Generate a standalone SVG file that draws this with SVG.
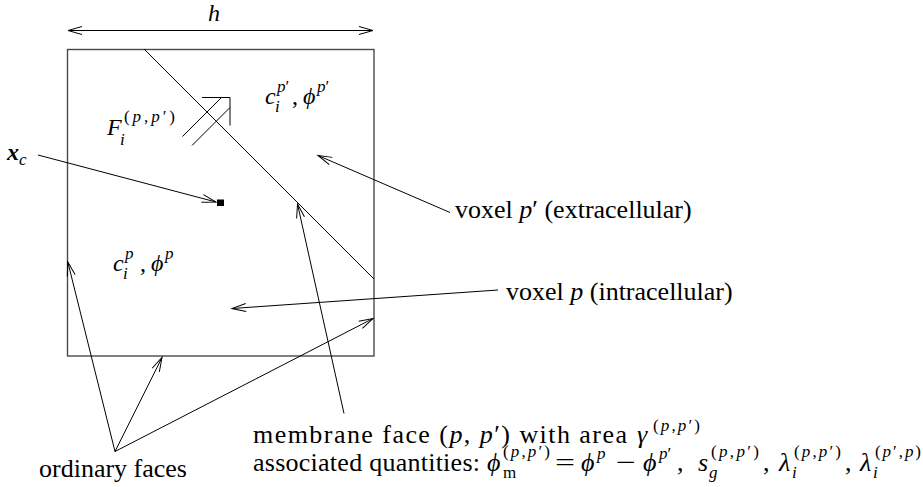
<svg xmlns="http://www.w3.org/2000/svg" width="923" height="487" viewBox="0 0 923 487">
<defs>
<marker id="ah" markerUnits="userSpaceOnUse" markerWidth="20" markerHeight="12" refX="14" refY="5" orient="auto-start-reverse" overflow="visible">
<path d="M0,1 L14,5 L0,9" fill="none" stroke="#000" stroke-width="1"/>
</marker>
</defs>
<rect width="923" height="487" fill="#fff"/>

<g id="voxel-box">
<rect x="67.5" y="49.5" width="306.5" height="306.5" fill="none" stroke="#4a4a4a" stroke-width="1.4"/>
<line x1="144" y1="49" x2="374" y2="279" stroke="#000" stroke-width="1"/>
</g>

<g id="flux-symbol" stroke="#000" stroke-width="1" fill="none">
<line x1="182.5" y1="136.5" x2="221" y2="98"/>
<line x1="192" y1="145.5" x2="230" y2="107.5"/>
<polyline points="202,97.5 230,97.5 230,125.5"/>
</g>

<g id="xc-point">
<rect x="217" y="199.5" width="7" height="6.5" fill="#000"/>
</g>

<g id="connectors" stroke="#000" stroke-width="1" fill="none">
<line x1="68" y1="30.5" x2="373" y2="30.5" marker-start="url(#ah)" marker-end="url(#ah)"/>
<line x1="38" y1="155" x2="216" y2="202" marker-end="url(#ah)"/>
<line x1="450" y1="212.5" x2="318" y2="155.5" marker-end="url(#ah)"/>
<line x1="498" y1="290" x2="232" y2="308.5" marker-end="url(#ah)"/>
<line x1="344" y1="413.5" x2="297.5" y2="204" marker-end="url(#ah)"/>
<line x1="115" y1="451.5" x2="67.8" y2="262" marker-end="url(#ah)"/>
<line x1="115" y1="451.5" x2="162" y2="357.5" marker-end="url(#ah)"/>
<line x1="115" y1="451.5" x2="373" y2="318.5" marker-end="url(#ah)"/>
</g>

<g id="label-h">
<text x="208" y="21" font-family="'Times New Roman', 'Liberation Serif', serif" font-size="24" font-style="italic">h</text>
</g>

<g id="label-flux">
<text x="107" y="135" font-family="'Times New Roman', 'Liberation Serif', serif" font-size="24" font-style="italic">F</text>
<text x="120" y="145" font-family="'Times New Roman', 'Liberation Serif', serif" font-size="17" font-style="italic">i</text>
<text x="124" y="122" font-family="'Times New Roman', 'Liberation Serif', serif" font-size="17" textLength="51" lengthAdjust="spacing">(<tspan font-style="italic">p</tspan>,<tspan font-style="italic">p</tspan>′)</text>
</g>

<g id="label-extra">
<text x="265" y="104" font-family="'Times New Roman', 'Liberation Serif', serif" font-size="24" font-style="italic">c</text>
<text x="275" y="112" font-family="'Times New Roman', 'Liberation Serif', serif" font-size="17" font-style="italic">i</text>
<text x="277" y="92" font-family="'Times New Roman', 'Liberation Serif', serif" font-size="17"><tspan font-style="italic">p</tspan>′</text>
<text x="292" y="104" font-family="'Times New Roman', 'Liberation Serif', serif" font-size="24">,</text>
<text x="303" y="104" font-family="'Times New Roman', 'Liberation Serif', serif" font-size="24" font-style="italic">ϕ</text>
<text x="317" y="92" font-family="'Times New Roman', 'Liberation Serif', serif" font-size="17"><tspan font-style="italic">p</tspan>′</text>
</g>

<g id="label-intra">
<text x="113" y="271" font-family="'Times New Roman', 'Liberation Serif', serif" font-size="24" font-style="italic">c</text>
<text x="123" y="279" font-family="'Times New Roman', 'Liberation Serif', serif" font-size="17" font-style="italic">i</text>
<text x="125" y="259" font-family="'Times New Roman', 'Liberation Serif', serif" font-size="17" font-style="italic">p</text>
<text x="140" y="271" font-family="'Times New Roman', 'Liberation Serif', serif" font-size="24">,</text>
<text x="151" y="271" font-family="'Times New Roman', 'Liberation Serif', serif" font-size="24" font-style="italic">ϕ</text>
<text x="165" y="259" font-family="'Times New Roman', 'Liberation Serif', serif" font-size="17" font-style="italic">p</text>
</g>

<g id="label-xc">
<text x="7" y="160" font-family="'Times New Roman', 'Liberation Serif', serif" font-size="24" font-style="italic" font-weight="bold">x</text>
<text x="19" y="165" font-family="'Times New Roman', 'Liberation Serif', serif" font-size="17" font-style="italic">c</text>
</g>

<g id="label-voxel-pp">
<text x="455" y="218" font-family="'Times New Roman', 'Liberation Serif', serif" font-size="26">voxel <tspan font-style="italic">p</tspan>′ (extracellular)</text>
</g>

<g id="label-voxel-p">
<text x="506" y="300" font-family="'Times New Roman', 'Liberation Serif', serif" font-size="26">voxel <tspan font-style="italic">p</tspan> (intracellular)</text>
</g>

<g id="label-ordinary">
<text x="39" y="477" font-family="'Times New Roman', 'Liberation Serif', serif" font-size="26">ordinary faces</text>
</g>

<g id="label-membrane">
<text x="253" y="443" font-family="'Times New Roman', 'Liberation Serif', serif" font-size="26" textLength="374" lengthAdjust="spacing">membrane face (<tspan font-style="italic">p</tspan>, <tspan font-style="italic">p</tspan>′) with area</text>
<text x="637" y="443" font-family="'Times New Roman', 'Liberation Serif', serif" font-size="26" font-style="italic">γ</text>
<text x="653" y="431" font-family="'Times New Roman', 'Liberation Serif', serif" font-size="17" textLength="47" lengthAdjust="spacing">(<tspan font-style="italic">p</tspan>,<tspan font-style="italic">p</tspan>′)</text>
</g>

<g id="label-quantities">
<text x="253" y="471" font-family="'Times New Roman', 'Liberation Serif', serif" font-size="26" textLength="227" lengthAdjust="spacing">associated quantities:</text>
<text x="487" y="471" font-family="'Times New Roman', 'Liberation Serif', serif" font-size="26" font-style="italic">ϕ</text>
<text x="503" y="478" font-family="'Times New Roman', 'Liberation Serif', serif" font-size="17">m</text>
<text x="503" y="457" font-family="'Times New Roman', 'Liberation Serif', serif" font-size="17" textLength="47" lengthAdjust="spacing">(<tspan font-style="italic">p</tspan>,<tspan font-style="italic">p</tspan>′)</text>
<text x="555" y="471" font-family="'Times New Roman', 'Liberation Serif', serif" font-size="26" textLength="20" lengthAdjust="spacingAndGlyphs">=</text>
<text x="581" y="471" font-family="'Times New Roman', 'Liberation Serif', serif" font-size="26" font-style="italic">ϕ</text>
<text x="597" y="459" font-family="'Times New Roman', 'Liberation Serif', serif" font-size="17" font-style="italic">p</text>
<text x="616" y="471" font-family="'Times New Roman', 'Liberation Serif', serif" font-size="26" textLength="20" lengthAdjust="spacingAndGlyphs">−</text>
<text x="643" y="471" font-family="'Times New Roman', 'Liberation Serif', serif" font-size="26" font-style="italic">ϕ</text>
<text x="659" y="459" font-family="'Times New Roman', 'Liberation Serif', serif" font-size="17"><tspan font-style="italic">p</tspan>′</text>
<text x="677" y="471" font-family="'Times New Roman', 'Liberation Serif', serif" font-size="26">,</text>
<text x="698" y="471" font-family="'Times New Roman', 'Liberation Serif', serif" font-size="26" font-style="italic">s</text>
<text x="709" y="478" font-family="'Times New Roman', 'Liberation Serif', serif" font-size="17" font-style="italic">g</text>
<text x="711" y="457" font-family="'Times New Roman', 'Liberation Serif', serif" font-size="17" textLength="48" lengthAdjust="spacing">(<tspan font-style="italic">p</tspan>,<tspan font-style="italic">p</tspan>′)</text>
<text x="763" y="471" font-family="'Times New Roman', 'Liberation Serif', serif" font-size="26">,</text>
<text x="779" y="471" font-family="'Times New Roman', 'Liberation Serif', serif" font-size="26" font-style="italic">λ</text>
<text x="792" y="478" font-family="'Times New Roman', 'Liberation Serif', serif" font-size="17" font-style="italic">i</text>
<text x="794" y="457" font-family="'Times New Roman', 'Liberation Serif', serif" font-size="17" textLength="47" lengthAdjust="spacing">(<tspan font-style="italic">p</tspan>,<tspan font-style="italic">p</tspan>′)</text>
<text x="845" y="471" font-family="'Times New Roman', 'Liberation Serif', serif" font-size="26">,</text>
<text x="860" y="471" font-family="'Times New Roman', 'Liberation Serif', serif" font-size="26" font-style="italic">λ</text>
<text x="873" y="478" font-family="'Times New Roman', 'Liberation Serif', serif" font-size="17" font-style="italic">i</text>
<text x="875" y="457" font-family="'Times New Roman', 'Liberation Serif', serif" font-size="17" textLength="46" lengthAdjust="spacing">(<tspan font-style="italic">p</tspan>′,<tspan font-style="italic">p</tspan>)</text>
</g>
</svg>
